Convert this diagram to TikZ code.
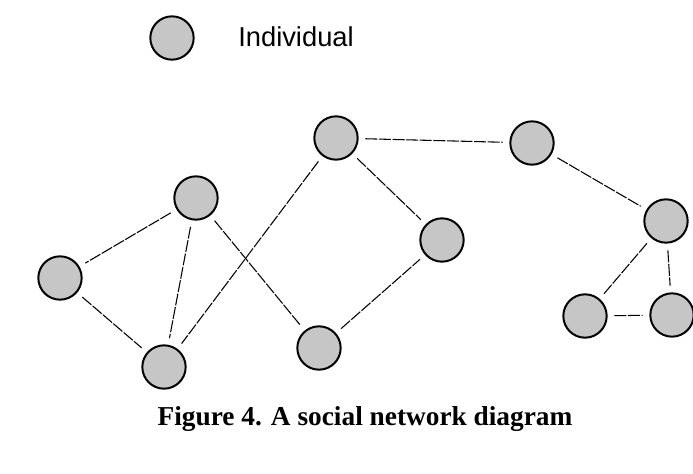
\documentclass[tikz,border=0pt]{standalone}
\usepackage{fontspec}
\setmainfont{Liberation Serif}
\newfontfamily\legendfont{Liberation Sans}
\usepackage{tikz}
\usetikzlibrary{positioning}
\tikzset{
  person/.style={circle, draw=black, fill=gray!45, line width=1.5pt,
                 inner sep=0pt, minimum size=32.5pt},
  tie/.style={draw=black, line width=0.8pt, shorten >=5pt, shorten <=5pt,
              dash pattern=on 9pt off 1.2pt},
  caption/.style={font=\bfseries\fontsize{20.5}{24}\selectfont, inner sep=0pt}
}

\begin{document}
\begin{tikzpicture}[x=0.75pt, y=-0.75pt]
  \useasboundingbox (0,0) rectangle (693,474);
  % legend
  \node[person] (key) at (172,38) {};
  \node[anchor=base west, inner sep=0pt, font=\legendfont\fontsize{20.5}{24}\selectfont]
    (keytext) at (238,47) {Individual};
  % individuals
  \node[person] (a) at (336,138) {};
  \node[person] (b) at (532,143) {};
  \node[person] (c) at (196,198) {};
  \node[person] (d) at (442,240) {};
  \node[person] (e) at (666,221) {};
  \node[person] (f) at (60,278) {};
  \node[person] (g) at (164,367) {};
  \node[person] (h) at (319,348) {};
  \node[person] (i) at (585,316) {};
  \node[person] (j) at (672,315) {};
  % ties
  \draw[tie] (a) -- (b);
  \draw[tie] (b) -- (e);
  \draw[tie] (a) -- (d);
  \draw[tie] (a) -- (g);
  \draw[tie] (c) -- (f);
  \draw[tie] (c) -- (g);
  \draw[tie] (c) -- (h);
  \draw[tie] (f) -- (g);
  \draw[tie] (h) -- (d);
  \draw[tie] (e) -- (i);
  \draw[tie] (e) -- (j);
  \draw[tie] (i) -- (j);
  \node[caption, anchor=base] (title) at (365,425) {Figure 4. A social network diagram};
\end{tikzpicture}
\end{document}
